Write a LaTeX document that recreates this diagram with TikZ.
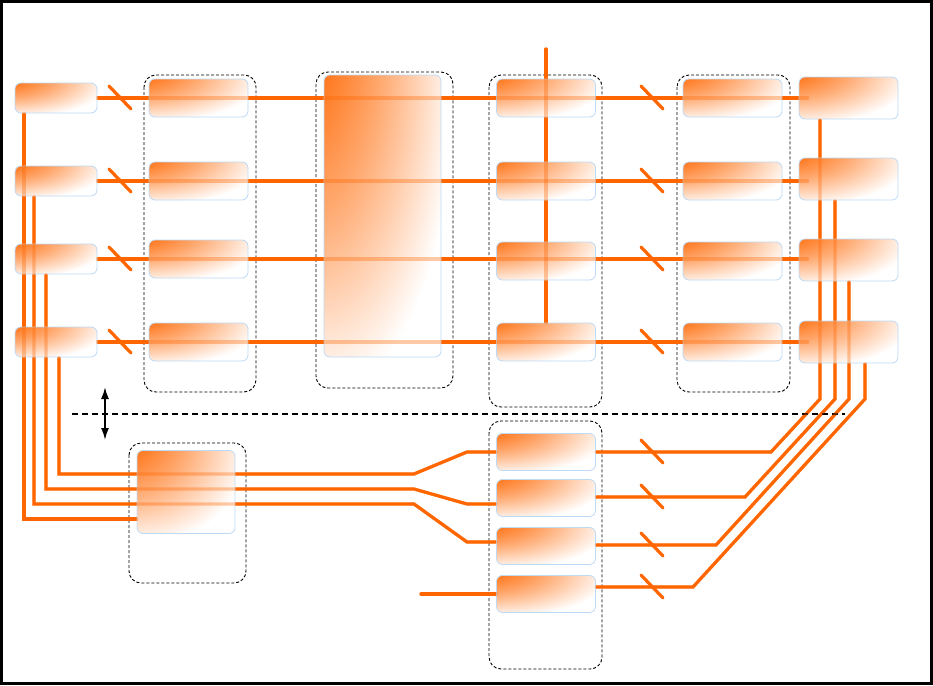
\documentclass[tikz,border=0pt]{standalone}
\usetikzlibrary{arrows.meta, backgrounds}
\pgfdeclarelayer{foreground}
\pgfsetlayers{background,main,foreground}
\definecolor{corange}{HTML}{FF6600}
\definecolor{cedge}{HTML}{BCD9F5}
\pgfdeclareradialshading{glow}{\pgfpoint{-50bp}{50bp}}{color(0bp)=(corange); color(16bp)=(corange); color(34bp)=(corange!55!white); color(54bp)=(white); color(100bp)=(white)}
\tikzset{
  box/.style={draw=cedge, line width=0.8pt, rounded corners=6pt, shade, shading=glow, inner sep=0pt},
  small/.style={box, minimum width=82pt, minimum height=30pt},
  unit/.style={box, minimum width=99pt, minimum height=38pt},
  wide/.style={box, minimum width=99pt, minimum height=42pt},
  wire/.style={draw=corange, line width=3.2pt, line cap=round},
  ghost/.style={wire, draw opacity=0.35},
  group/.style={draw=black, line width=0.9pt, dash pattern=on 3pt off 2pt, rounded corners=12pt},
  divider/.style={draw=black, line width=1.8pt, dash pattern=on 6pt off 4pt},
  updown/.style={{Latex[length=12pt,width=8pt]}-{Latex[length=12pt,width=8pt]}, line width=1.8pt},
}
% all connectors, drawn once below the boxes and once faintly over them
\newcommand{\drawwires}[1]{%
  \draw[#1] (a1.east) -- ([xshift=9pt]r1.west |- a1.east);
  \draw[#1] (a2.east) -- ([xshift=9pt]r2.west |- a2.east);
  \draw[#1] (a3.east) -- ([xshift=9pt]r3.west |- a3.east);
  \draw[#1] (a4.east) -- ([xshift=9pt]r4.west |- a4.east);
  \draw[#1] (feed) -- (d4.north);
  \draw[#1] ([xshift=-32pt]a1.south) |- ([yshift=-27pt]L.west);
  \draw[#1] ([xshift=-22pt]a2.south) |- (j3) -- (k3) -- (k3 -| m3.west);
  \draw[#1] ([xshift=-10pt]a3.south) |- (j2) -- (k2) -- (k2 -| m2.west);
  \draw[#1] ([xshift=3pt]a4.south) |- (j1) -- (k1) -- (m1.west);
  \draw[#1] (src) -- (m4.west);
  \draw[#1] (m1.east) -- (h1) -- (v1) -- (v1 |- r1.south);
  \draw[#1] (h2 -| m2.east) -- (h2) -- (v2) -- (v2 |- r2.south);
  \draw[#1] (h3 -| m3.east) -- (h3) -- (v3) -- (v3 |- r3.south);
  \draw[#1] (h4 -| m4.east) -- (h4) -- (v4) -- (v4 |- r4.south);
}

\begin{document}
\begin{tikzpicture}[x=1pt, y=-1pt]
  \useasboundingbox (0,0) rectangle (933,685);
  % upper rows
  \node[small] (a1) at (56,98) {};
  \node[small] (a2) at (56,181) {};
  \node[small] (a3) at (56,259) {};
  \node[small] (a4) at (56,342) {};
  \node[unit] (b1) at (198.5,98) {};
  \node[unit] (b2) at (198.5,181) {};
  \node[unit] (b3) at (198.5,259) {};
  \node[unit] (b4) at (198.5,342) {};
  \node[box, minimum width=117pt, minimum height=282pt] (big) at (382.5,216) {};
  \node[unit] (d1) at (546,98) {};
  \node[unit] (d2) at (546,181) {};
  \node[unit] (d3) at (546,261) {};
  \node[unit] (d4) at (546,342) {};
  \node[unit] (e1) at (732.5,98) {};
  \node[unit] (e2) at (732.5,181) {};
  \node[unit] (e3) at (732.5,261) {};
  \node[unit] (e4) at (732.5,342) {};
  \node[wide] (r1) at (848.5,98) {};
  \node[wide] (r2) at (848.5,179) {};
  \node[wide] (r3) at (848.5,260) {};
  \node[wide] (r4) at (848.5,342) {};
  % lower rows
  \node[box, minimum width=98pt, minimum height=83pt] (L) at (186,492) {};
  \node[unit, minimum height=37pt] (m1) at (546,452) {};
  \node[unit, minimum height=37pt] (m2) at (546,498) {};
  \node[unit, minimum height=37pt] (m3) at (546,546) {};
  \node[unit, minimum height=37pt] (m4) at (546,594) {};
  \coordinate (feed) at (546,49);
  \coordinate (src) at (421,594);
  \coordinate (j1) at (414,474);
  \coordinate (j2) at (414,489);
  \coordinate (j3) at (414,504);
  \coordinate (k1) at (467,452);
  \coordinate (k2) at (467,504);
  \coordinate (k3) at (467,542);
  \coordinate (h1) at (771,452);
  \coordinate (h2) at (745,497);
  \coordinate (h3) at (716,545);
  \coordinate (h4) at (693,587);
  \coordinate (v1) at (820,399);
  \coordinate (v2) at (835,399);
  \coordinate (v3) at (849,399);
  \coordinate (v4) at (865,399);
  \coordinate (up) at (105,387);
  \coordinate (dn) at (105,440);

  \begin{scope}[on background layer]
    \draw[group] (144,75) rectangle (256,392);
    \draw[group] (316,72) rectangle (453,388);
    \draw[group] (489,75) rectangle (602,407);
    \draw[group] (677,75) rectangle (790,392);
    \draw[group] (129,443) rectangle (246,583);
    \draw[group] (489,421) rectangle (602,669);
    \drawwires{wire}
    \foreach \y in {98,181,259,342} {
      \draw[wire] (109,\y-12) -- (131,\y+11);
      \draw[wire] (641,\y-12) -- (663,\y+11);
    }
    \foreach \y in {452,497,545,587}
      \draw[wire] (641,\y-12) -- (663,\y+11);
  \end{scope}
  \begin{pgfonlayer}{foreground}
    \drawwires{ghost}
  \end{pgfonlayer}

  \draw[divider] (72,414) -- (845,414);
  \draw[updown] (up) -- (dn);
  \draw[line width=3pt] (1.5,1.5) rectangle (931.5,683.5);
\end{tikzpicture}
\end{document}
